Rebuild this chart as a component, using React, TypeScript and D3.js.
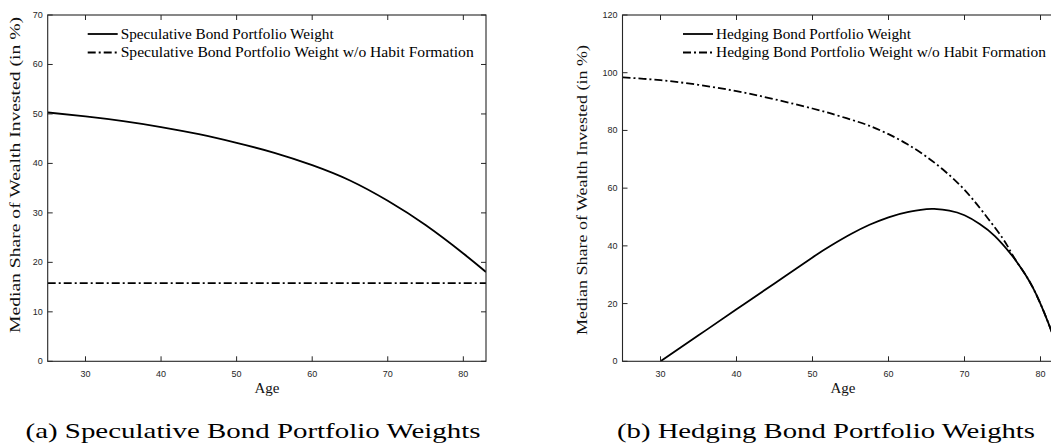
import React from "react";
import * as d3 from "d3";

// ---------- data ----------
const specAges = [25, 30, 35, 40, 45, 50, 55, 60, 65, 70, 75, 80, 83];
const specWeight = [50.3, 49.5, 48.55, 47.35, 45.9, 44.15, 42.15, 39.65, 36.55, 32.45, 27.55, 21.8, 18.05];
const specAgesNoHabit = [25, 83];
const specWeightNoHabit = [15.8, 15.8];

const hedgeAges = [30, 35, 40, 45, 50, 52.5, 55, 57.5, 60, 62.5, 65, 66, 68, 70, 72, 74, 76, 77, 78, 79, 80, 81, 82, 83];
const hedgeWeight = [0, 9.0, 18.0, 27.0, 36.0, 40.2, 44.0, 47.3, 49.9, 51.7, 52.7, 52.8, 52.2, 50.6, 47.6, 43.4, 37.5, 34.0, 30.1, 25.5, 19.9, 13.5, 6.3, -1.5];
const hedgeAgesNoHabit = [25, 30, 35, 40, 45, 50, 52.5, 55, 57.5, 60, 62.5, 65, 67.5, 70, 72.5, 75, 76, 77, 78, 79, 80, 81, 82, 83];
const hedgeWeightNoHabit = [98.4, 97.4, 95.8, 93.6, 90.8, 87.6, 85.8, 83.8, 81.6, 78.7, 75.2, 70.9, 65.7, 59.4, 51.5, 42.7, 38.3, 34.0, 30.1, 25.5, 19.9, 13.5, 6.3, -1.5];

const xTicks = [30, 40, 50, 60, 70, 80];
const yTicksSpec = [0, 10, 20, 30, 40, 50, 60, 70];
const yTicksHedge = [0, 20, 40, 60, 80, 100, 120];

const legendSpec = ["Speculative Bond Portfolio Weight", "Speculative Bond Portfolio Weight w/o Habit Formation"];
const legendHedge = ["Hedging Bond Portfolio Weight", "Hedging Bond Portfolio Weight w/o Habit Formation"];
const captionSpec = "(a) Speculative Bond Portfolio Weights";
const captionHedge = "(b) Hedging Bond Portfolio Weights";
const xLabel = "Age";
const yLabel = "Median Share of Wealth Invested (in %)";

// ---------- styling ----------
const AXIS = "#262626";
const SERIF = "'Liberation Serif', 'DejaVu Serif', serif";
const SANS = "'Liberation Sans', Arial, sans-serif";
const DASHDOT = "8,3,2,3";

type Series = { ages: number[]; vals: number[]; dash?: string };

function Panel(props: {
  id: string;
  left: number;
  right: number;
  top: number;
  bottom: number;
  yMax: number;
  yTicks: number[];
  series: Series[];
  legend: string[];
  legendX: number;
  legendTextLen: number[];
  yLabelX: number;
  yLabelY: number;
  yLabelLen: number;
  xLabelX: number;
  caption: string;
  captionX: number;
  captionLen: number;
}) {
  const { left, right, top, bottom } = props;
  const x = d3.scaleLinear().domain([25, 83]).range([left, right]);
  const y = d3.scaleLinear().domain([0, props.yMax]).range([bottom, top]);
  const line = d3
    .line<[number, number]>()
    .x((d) => x(d[0]))
    .y((d) => y(d[1]))
    .curve(d3.curveNatural);
  const tl = 5;
  return (
    <g>
      <defs>
        <clipPath id={props.id}>
          <rect x={left} y={top} width={right - left} height={bottom - top} />
        </clipPath>
      </defs>
      <g clipPath={`url(#${props.id})`}>
        {props.series.map((s, i) => (
          <path
            key={i}
            d={line(s.ages.map((a, j) => [a, s.vals[j]] as [number, number])) || ""}
            fill="none"
            stroke="#000"
            strokeWidth={1.8}
            strokeDasharray={s.dash}
          />
        ))}
      </g>
      <rect x={left} y={top} width={right - left} height={bottom - top} fill="none" stroke={AXIS} strokeWidth={1.1} />
      {xTicks.map((t) => (
        <g key={"x" + t}>
          <line x1={x(t)} x2={x(t)} y1={bottom} y2={bottom - tl} stroke={AXIS} strokeWidth={1} />
          <line x1={x(t)} x2={x(t)} y1={top} y2={top + tl} stroke={AXIS} strokeWidth={1} />
          <text x={x(t)} y={bottom + 16} textAnchor="middle" fontFamily={SANS} fontSize={9} fill={AXIS}>
            {t}
          </text>
        </g>
      ))}
      {props.yTicks.map((t) => (
        <g key={"y" + t}>
          <line x1={left} x2={left + tl} y1={y(t)} y2={y(t)} stroke={AXIS} strokeWidth={1} />
          <line x1={right} x2={right - tl} y1={y(t)} y2={y(t)} stroke={AXIS} strokeWidth={1} />
          <text x={left - 5} y={y(t) + 3} textAnchor="end" fontFamily={SANS} fontSize={9} fill={AXIS}>
            {t}
          </text>
        </g>
      ))}
      <text x={props.xLabelX} y={bottom + 32} textAnchor="middle" fontFamily={SERIF} fontSize={15} fill="#111">
        {xLabel}
      </text>
      <text
        transform={`translate(${props.yLabelX},${props.yLabelY}) rotate(-90)`}
        textAnchor="middle"
        fontFamily={SERIF}
        fontSize={15}
        fill="#111"
        textLength={props.yLabelLen}
        lengthAdjust="spacingAndGlyphs"
      >
        {yLabel}
      </text>
      {props.legend.map((txt, i) => {
        const ly = 34 + i * 18.5;
        return (
          <g key={"l" + i}>
            <line
              x1={props.legendX}
              x2={props.legendX + 30}
              y1={ly}
              y2={ly}
              stroke="#000"
              strokeWidth={1.8}
              strokeDasharray={props.series[i].dash}
            />
            <text
              x={props.legendX + 33}
              y={ly + 4.5}
              fontFamily={SERIF}
              fontSize={14}
              fill="#000"
              textLength={props.legendTextLen[i]}
              lengthAdjust="spacingAndGlyphs"
            >
              {txt}
            </text>
          </g>
        );
      })}
      <text
        x={props.captionX}
        y={438}
        textAnchor="middle"
        fontFamily={SERIF}
        fontSize={22}
        fill="#000"
        textLength={props.captionLen}
        lengthAdjust="spacingAndGlyphs"
      >
        {props.caption}
      </text>
    </g>
  );
}

export default function App() {
  return (
    <svg
      width={1051}
      height={447}
      viewBox="0 0 1051 447"
      style={{ position: "absolute", left: 0, top: 0, background: "#fff" }}
    >
      <rect x={0} y={0} width={1051} height={447} fill="#fff" />
      <Panel
        id="clipA"
        left={47.7}
        right={486}
        top={15}
        bottom={361.3}
        yMax={70}
        yTicks={yTicksSpec}
        series={[
          { ages: specAges, vals: specWeight },
          { ages: specAgesNoHabit, vals: specWeightNoHabit, dash: DASHDOT },
        ]}
        legend={legendSpec}
        legendX={87.7}
        legendTextLen={[213, 353]}
        yLabelX={20}
        yLabelY={175}
        yLabelLen={316}
        xLabelX={267}
        caption={captionSpec}
        captionX={253}
        captionLen={455}
      />
      <Panel
        id="clipB"
        left={622.5}
        right={1063.3}
        top={15}
        bottom={361.3}
        yMax={120}
        yTicks={yTicksHedge}
        series={[
          { ages: hedgeAges, vals: hedgeWeight },
          { ages: hedgeAgesNoHabit, vals: hedgeWeightNoHabit, dash: DASHDOT },
        ]}
        legend={legendHedge}
        legendX={683}
        legendTextLen={[195, 330]}
        yLabelX={587}
        yLabelY={190}
        yLabelLen={290}
        xLabelX={843}
        caption={captionHedge}
        captionX={826}
        captionLen={418}
      />
    </svg>
  );
}
